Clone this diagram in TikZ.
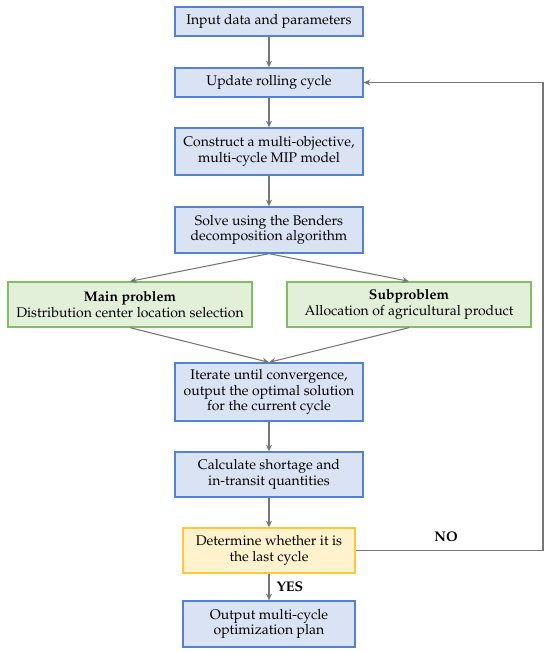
\documentclass[tikz,border=0pt]{standalone}
\usepackage[T1]{fontenc}
\usepackage{mathpazo}
\usetikzlibrary{arrows.meta}
\definecolor{bluefill}{HTML}{DAE3F3}
\definecolor{blueline}{RGB}{82,129,214}
\definecolor{greenfill}{HTML}{E2F0D9}
\definecolor{greenline}{RGB}{130,190,100}
\definecolor{yellowfill}{HTML}{FFF2CC}
\definecolor{yellowline}{RGB}{255,200,60}
\definecolor{arrowgray}{RGB}{118,118,118}
\begin{document}
\begin{tikzpicture}[x=0.75pt,y=-0.75pt,
    every node/.style={font=\fontsize{10.5}{11.8}\selectfont},
    stepbox/.style={draw=blueline,fill=bluefill,line width=1pt,align=center,
      minimum width=141pt,inner sep=2pt},
    subbox/.style={draw=greenline,fill=greenfill,line width=1pt,align=center,
      minimum width=183pt,minimum height=33.75pt,inner sep=2pt},
    testbox/.style={draw=yellowline,fill=yellowfill,line width=1pt,align=center,
      minimum width=129pt,minimum height=33.75pt,inner sep=2pt},
    link/.style={draw=arrowgray,line width=0.8pt,-{Stealth[length=5pt,width=4.5pt]}}]
      \useasboundingbox (0,0) rectangle (550,653);
      \draw
        (269,21.5) node[stepbox,minimum height=21.75pt] (input){Input data and parameters}
        (269,82.5) node[stepbox,minimum height=21.75pt] (update){Update rolling cycle}
        (269,151.5) node[stepbox,minimum height=35.25pt] (build){Construct a multi-objective,\\multi-cycle MIP model}
        (269,230) node[stepbox,minimum height=34.5pt] (solve){Solve using the Benders\\decomposition algorithm}
        (130,304.5) node[subbox] (master){\textbf{Main problem}\\Distribution center location selection}
        (409,304.5) node[subbox] (sub){\textbf{Subproblem}\\Allocation of agricultural product}
        (269,392) node[stepbox,minimum height=43.5pt] (iterate){Iterate until convergence,\\output the optimal solution\\for the current cycle}
        (269,474.5) node[stepbox,minimum height=33.75pt] (calc){Calculate shortage and\\in-transit quantities}
        (269,550.5) node[testbox] (check){Determine whether it is\\the last cycle}
        (269,624) node[stepbox,minimum height=34.5pt,minimum width=129pt] (output){Output multi-cycle\\optimization plan};
      \coordinate (back1) at (543,550.5);
      \coordinate (back2) at (543,82.5);
      \begin{scope}[link]
        \draw (input) to (update);
        \draw (update) to (build);
        \draw (build) to (solve);
        \draw (solve.south) to (master.north);
        \draw (solve.south) to (sub.north);
        \draw (master.south) to (iterate.north);
        \draw (sub.south) to (iterate.north);
        \draw (iterate) to (calc);
        \draw (calc) to (check);
        \draw (check) to node[right=2pt,font=\fontsize{10.5}{11.8}\selectfont\bfseries] (yes){YES} (output);
        \draw (check.east) -- (back1) -- (back2) -- (update.east);
      \end{scope}
      \node[font=\fontsize{10.5}{11.8}\selectfont\bfseries] (no) at (446,537) {NO};
    \end{tikzpicture}
\end{document}
